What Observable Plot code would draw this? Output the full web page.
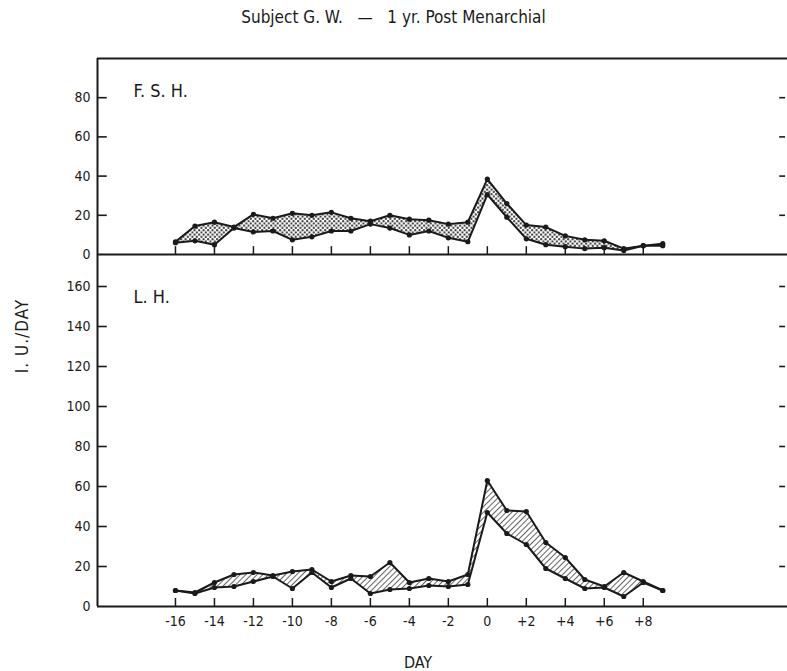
<!DOCTYPE html>
<html>
<head>
<meta charset="utf-8">
<script src="https://cdn.jsdelivr.net/npm/d3@7"></script>
<script src="https://cdn.jsdelivr.net/npm/@observablehq/plot@0.6"></script>
<style>
  body { margin: 0; background: #fff; }
  #wrap { position: relative; width: 787px; height: 671px; font-family: "DejaVu Sans Condensed", "Liberation Sans Narrow", Roboto, sans-serif; color: #1a1a1a; }
  #title { position: absolute; top: 7px; left: 0; width: 787px; text-align: center; font-size: 17px; white-space: pre; }
  #fsh { position: absolute; top: 40px; left: 0; }
  #lh { position: absolute; top: 254px; left: 0; }
  #ylab { position: absolute; left: 22px; top: 336px; transform: translate(-50%, -50%) rotate(-90deg); font-size: 17px; letter-spacing: 1px; white-space: nowrap; }
  #xlab { position: absolute; left: 418px; top: 662px; transform: translate(-50%, -50%); font-size: 16px; }
</style>
</head>
<body>
<div id="wrap">
  <div id="title"></div>
  <div id="fsh"></div>
  <div id="lh"></div>
  <div id="ylab">I. U./DAY</div>
  <div id="xlab">DAY</div>
</div>
<script>
// ---- data ----
const days = [-16,-15,-14,-13,-12,-11,-10,-9,-8,-7,-6,-5,-4,-3,-2,-1,0,1,2,3,4,5,6,7,8,9];
const fshUpper = [6.5,14.5,16.5,14,20.5,18.5,21,20,21.5,18.5,17,20,18,17.5,15.5,16.5,38.5,26,15,14,9.5,7.5,7,3,4.5,5.5];
const fshLower = [6,7,5,13.5,11.5,12,7.5,9,12,12,15.5,13.5,10,12,8.5,6.5,30.5,19,8,5,4,3,3.5,2,4.5,4.5];
const lhUpper = [8,7,12,16,17,15.5,17.5,18.5,12.5,15.5,15,22,12,14,12.5,16,63,48,47.5,32,24.5,13.5,10,17,12.5,8];
const lhLower = [8,6.5,9.5,10,12.5,15,9,17,9.5,14,6.5,8.5,9,10.5,10,11,47,36.5,31,19,14,9,9.5,5,12,8];
const dayTicks = [-16,-14,-12,-10,-8,-6,-4,-2,0,2,4,6,8];
const dayTickLabels = ["-16","-14","-12","-10","-8","-6","-4","-2","0","+2","+4","+6","+8"];
const fshTicks = [0,20,40,60,80];
const lhTicks = [0,20,40,60,80,100,120,140,160];
const panelNames = ["F. S. H.", "L. H."];
const title = "Subject G. W.   —   1 yr. Post Menarchial";

const fsh = days.map((d, i) => ({day: d, hi: fshUpper[i], lo: fshLower[i]}));
const lh = days.map((d, i) => ({day: d, hi: lhUpper[i], lo: lhLower[i]}));

const FONT = '"DejaVu Sans Condensed", "Liberation Sans Narrow", Roboto, sans-serif';
const INK = "#1a1a1a";
const xDomain = [-20, 15.4];

function seriesMarks(data, fill) {
  return [
    Plot.areaY(data, {x: "day", y1: "lo", y2: "hi", fill: fill}),
    Plot.line(data, {x: "day", y: "hi", stroke: INK, strokeWidth: 2}),
    Plot.line(data, {x: "day", y: "lo", stroke: INK, strokeWidth: 2}),
    Plot.dot(data, {x: "day", y: "hi", r: 2.6, fill: INK}),
    Plot.dot(data, {x: "day", y: "lo", r: 2.6, fill: INK})
  ];
}

const fshPlot = Plot.plot({
  width: 787, height: 214,
  marginTop: 18, marginBottom: 0, marginLeft: 97, marginRight: 0,
  style: {fontFamily: FONT, fontSize: "14px", background: "transparent", overflow: "visible", color: INK},
  x: {domain: xDomain, axis: null},
  y: {domain: [0, 100], ticks: fshTicks, tickSize: 0, tickPadding: 7, label: null},
  marks: [
    ...seriesMarks(fsh, "url(#stipple)"),
    Plot.ruleX(dayTicks, {y1: 0, y2: 4, stroke: INK, strokeWidth: 1.5}),
    Plot.ruleY(fshTicks.slice(1), {x1: -20, x2: -19.5, stroke: INK, strokeWidth: 1.6}),
    Plot.ruleY(fshTicks.slice(1), {x1: 15.0, x2: 15.3, stroke: INK, strokeWidth: 1.6}),
    Plot.ruleY([0, 100], {stroke: INK, strokeWidth: 2}),
    Plot.ruleX([-20], {stroke: INK, strokeWidth: 2}),
    Plot.text([panelNames[0]], {frameAnchor: "top-left", dx: 36, dy: 33, lineAnchor: "middle", textAnchor: "start", fontSize: 18, fill: INK})
  ]
});

const lhPlot = Plot.plot({
  width: 787, height: 382,
  marginTop: 0, marginBottom: 30, marginLeft: 97, marginRight: 0,
  style: {fontFamily: FONT, fontSize: "14px", background: "transparent", overflow: "visible", color: INK},
  x: {domain: xDomain, ticks: dayTicks, tickFormat: d => dayTickLabels[dayTicks.indexOf(d)], tickSize: 0, tickPadding: 10, label: null},
  y: {domain: [0, 176], ticks: lhTicks, tickSize: 0, tickPadding: 7, label: null},
  marks: [
    ...seriesMarks(lh, "url(#hatch)"),
    Plot.ruleX(dayTicks, {y1: 0, y2: 4, stroke: INK, strokeWidth: 1.5}),
    Plot.ruleY(lhTicks.slice(1), {x1: -20, x2: -19.5, stroke: INK, strokeWidth: 1.6}),
    Plot.ruleY(lhTicks.slice(1), {x1: 15.0, x2: 15.3, stroke: INK, strokeWidth: 1.6}),
    Plot.ruleY([0], {stroke: INK, strokeWidth: 2}),
    Plot.ruleX([-20], {stroke: INK, strokeWidth: 2}),
    Plot.text([panelNames[1]], {frameAnchor: "top-left", dx: 36, dy: 43, lineAnchor: "middle", textAnchor: "start", fontSize: 18, fill: INK})
  ]
});

d3.select(fshPlot).insert("defs", ":first-child").html(
  '<pattern id="stipple" width="4.5" height="4.5" patternUnits="userSpaceOnUse">' +
  '<rect width="4.5" height="4.5" fill="#fff"/>' +
  '<circle cx="1.1" cy="1.1" r="1.05" fill="#2e2e2e"/>' +
  '<circle cx="3.35" cy="3.35" r="1.05" fill="#2e2e2e"/>' +
  '</pattern>');
d3.select(lhPlot).insert("defs", ":first-child").html(
  '<pattern id="hatch" width="4" height="4" patternUnits="userSpaceOnUse" patternTransform="rotate(45)">' +
  '<rect width="4" height="4" fill="#fff"/>' +
  '<line x1="0" y1="0" x2="0" y2="4" stroke="#222" stroke-width="1.4"/>' +
  '</pattern>');

document.getElementById("title").textContent = title;
document.getElementById("fsh").appendChild(fshPlot);
document.getElementById("lh").appendChild(lhPlot);
</script>
</body>
</html>
